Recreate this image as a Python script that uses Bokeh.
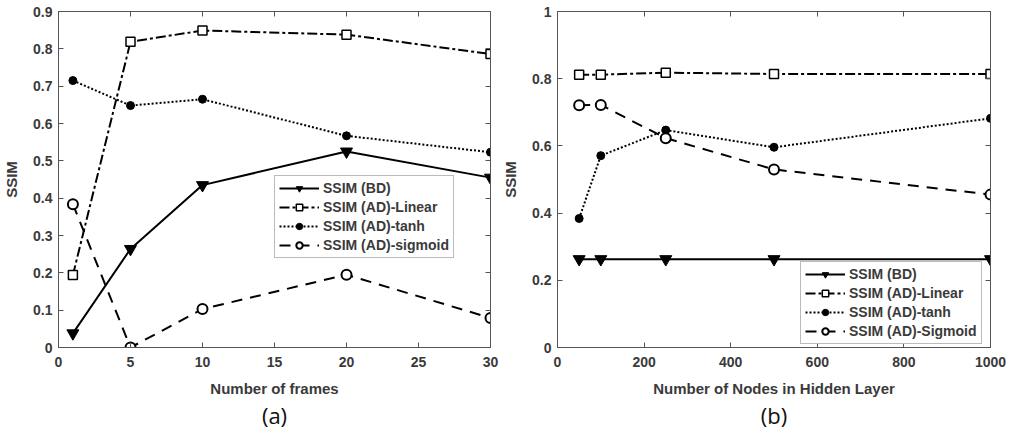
from bokeh.plotting import figure
from bokeh.layouts import row
from bokeh.models import (LinearAxis, Title, FixedTicker, CustomJSTickFormatter,
                          Range1d, Legend, LegendItem)
from bokeh.embed import file_html
from bokeh.resources import INLINE

# ---- data, panel (a)
frames = [1, 5, 10, 20, 30]
a_bd = [0.038, 0.264, 0.435, 0.525, 0.455]
a_linear = [0.194, 0.819, 0.849, 0.838, 0.786]
a_tanh = [0.715, 0.648, 0.665, 0.567, 0.523]
a_sigmoid = [0.384, 0.0, 0.103, 0.195, 0.079]
a_xticks = [0, 5, 10, 15, 20, 25, 30]
a_yticks = [0, 0.1, 0.2, 0.3, 0.4, 0.5, 0.6, 0.7, 0.8, 0.9]

# ---- data, panel (b)
nodes = [50, 100, 250, 500, 1000]
b_bd = [0.263, 0.263, 0.263, 0.263, 0.263]
b_linear = [0.812, 0.812, 0.818, 0.814, 0.814]
b_tanh = [0.384, 0.571, 0.647, 0.596, 0.682]
b_sigmoid = [0.721, 0.722, 0.623, 0.530, 0.455]
b_xticks = [0, 200, 400, 600, 800, 1000]
b_yticks = [0, 0.2, 0.4, 0.6, 0.8, 1.0]

labels_a = ["SSIM (BD)", "SSIM (AD)-Linear", "SSIM (AD)-tanh", "SSIM (AD)-sigmoid"]
labels_b = ["SSIM (BD)", "SSIM (AD)-Linear", "SSIM (AD)-tanh", "SSIM (AD)-Sigmoid"]

FONT = "Liberation Sans"
TXT = "#3a3a3a"
FRAME = "#555555"


def make_panel(x, series, labels, xr, yr, xticks, yticks, xlabel, caption,
               border_left, border_right, frame_w, legend_loc):
    p = figure(output_backend="svg", toolbar_location=None,
               frame_width=frame_w, frame_height=336,
               min_border_left=border_left, min_border_right=border_right,
               min_border_top=11, min_border_bottom=66,
               x_range=Range1d(*xr), y_range=Range1d(*yr))
    p.grid.visible = False
    p.outline_line_color = FRAME
    p.outline_line_width = 1
    p.background_fill_color = "white"
    p.border_fill_color = "white"

    fmt = CustomJSTickFormatter(code="return (Math.round(tick*10)/10).toString();")
    for ax, ticks in ((p.xaxis[0], xticks), (p.yaxis[0], yticks)):
        ax.ticker = FixedTicker(ticks=ticks)
        ax.minor_tick_line_color = None
        ax.major_tick_in = 5
        ax.major_tick_out = 0
        ax.axis_line_color = FRAME
        ax.major_tick_line_color = FRAME
        ax.major_label_text_font = FONT
        ax.major_label_text_font_size = "14px"
        ax.major_label_text_font_style = "bold"
        ax.major_label_text_color = TXT
        ax.axis_label_text_font = FONT
        ax.axis_label_text_font_size = "15px"
        ax.axis_label_text_font_style = "bold"
        ax.axis_label_text_color = TXT
    p.yaxis[0].formatter = fmt
    p.xaxis[0].major_label_standoff = 9
    p.yaxis[0].major_label_standoff = 6
    p.xaxis[0].axis_label = xlabel
    p.xaxis[0].axis_label_standoff = 10
    p.yaxis[0].axis_label = "SSIM"
    p.yaxis[0].axis_label_standoff = 10

    # mirror ticks on top and right (MATLAB box); their labels are not drawn
    blank = CustomJSTickFormatter(code='return "";')
    for loc, ticks in (("above", xticks), ("right", yticks)):
        ax = LinearAxis(ticker=FixedTicker(ticks=ticks), formatter=blank,
                        major_tick_in=5, major_tick_out=0,
                        minor_tick_line_color=None, major_label_text_font_size="0px",
                        major_label_text_color=None, axis_label_standoff=0,
                        major_label_standoff=0, axis_line_color=FRAME,
                        major_tick_line_color=FRAME)
        p.add_layout(ax, loc)

    p.add_layout(Title(text=caption, align="center", text_font="Open Sans",
                       text_font_size="22px", text_font_style="normal",
                       text_color="#111111", standoff=0, vertical_align="top"),
                 "below")

    bd, lin, tanh, sig = series
    items = []
    r1 = p.line(x, bd, line_color="black", line_width=2)
    m1 = p.scatter(x, bd, marker="inverted_triangle", size=12, fill_color="black",
                   line_color="black")
    items.append(LegendItem(label=labels[0], renderers=[r1, m1]))
    r2 = p.line(x, lin, line_color="black", line_width=2, line_dash="10 3 3 3")
    m2 = p.scatter(x, lin, marker="square", size=9, fill_color="white",
                   line_color="black", line_width=1.5)
    items.append(LegendItem(label=labels[1], renderers=[r2, m2]))
    r3 = p.line(x, tanh, line_color="black", line_width=2, line_dash="2 2")
    m3 = p.scatter(x, tanh, marker="circle", size=8, fill_color="black",
                   line_color="black")
    items.append(LegendItem(label=labels[2], renderers=[r3, m3]))
    r4 = p.line(x, sig, line_color="black", line_width=2, line_dash="11 8")
    m4 = p.scatter(x, sig, marker="circle", size=10, fill_color="white",
                   line_color="black", line_width=2)
    items.append(LegendItem(label=labels[3], renderers=[r4, m4]))

    leg = Legend(items=items, location=legend_loc, glyph_width=40, glyph_height=16,
                 label_height=16, spacing=3, padding=4, margin=0, label_standoff=4,
                 label_text_font=FONT, label_text_font_size="14px",
                 label_text_font_style="bold", label_text_color=TXT,
                 border_line_color="#777777", border_line_width=1,
                 background_fill_color="white", background_fill_alpha=1)
    p.add_layout(leg, "center")
    return p


pa = make_panel(frames, (a_bd, a_linear, a_tanh, a_sigmoid), labels_a,
                (0, 30), (0, 0.9), a_xticks, a_yticks, "Number of frames", "(a)",
                56, 9, 432, (216, 89))
pb = make_panel(nodes, (b_bd, b_linear, b_tanh, b_sigmoid), labels_b,
                (0, 1000), (0, 1.0), b_xticks, b_yticks,
                "Number of Nodes in Hidden Layer", "(b)",
                58, 16, 433, (243, 3))

layout = row(pa, pb)
open("out.html", "w").write(file_html(layout, INLINE))
